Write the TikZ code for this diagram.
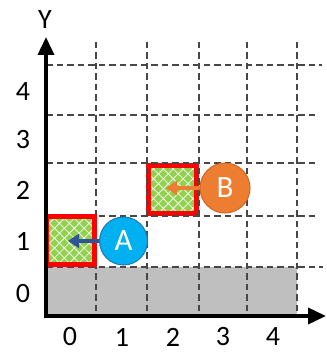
\documentclass[tikz,border=0pt]{standalone}
\usepackage{fontspec}
\setmainfont{Carlito}
\usetikzlibrary{arrows.meta,patterns.meta}
\definecolor{tilegreen}{HTML}{92D050}
\definecolor{floorgray}{HTML}{BFBFBF}
\definecolor{cyanA}{HTML}{00B0F0}
\definecolor{cyanAedge}{HTML}{1F78B4}
\definecolor{arrowA}{HTML}{2F5597}
\definecolor{orangeB}{HTML}{ED7D31}
\definecolor{orangeBedge}{HTML}{D0661F}
\begin{document}
\begin{tikzpicture}[x=1pt,y=-1pt,
  gridline/.style={draw=black!72, line width=1.1pt, dash pattern=on 6.5pt off 4pt},
  axisline/.style={line width=3.6pt, -{Triangle[width=16pt,length=18pt]}},
  lab/.style={font=\fontsize{28}{30}\selectfont, inner sep=0pt},
  tile/.style={minimum width=48pt, minimum height=48pt, inner sep=0pt, fill=tilegreen,
    postaction={pattern={Hatch[angle=45,distance=7pt,line width=0.8pt]}, pattern color=white!85!tilegreen},
    postaction={draw=red, line width=5.6pt}},
  ball/.style={circle, minimum size=48pt, inner sep=0pt, line width=1pt, text=white,
    font=\fontsize{31}{32}\selectfont},
  mover/.style={line width=3.4pt, -{Triangle[width=14pt,length=11pt]}}
]
\useasboundingbox (0,0) rectangle (326,352);
% floor
\fill[floorgray] (46,267) rectangle (297,316);
% tile B (under the grid)
\node[tile] (sqB) at (172.5,189.5) {};
% grid
\foreach \x in {96,147,199,247,297} \draw[gridline] (\x,42) -- (\x,316);
\draw[gridline] (46,65) -- (322,65);
\draw[gridline] (46,115) -- (316,115);
\draw[gridline] (46,163) -- (316,163);
\draw[gridline] (46,216) -- (316,216);
\draw[gridline] (46,267) -- (323,267);
% tile A (over the grid)
\node[tile] (sqA) at (70.5,240.5) {};
% axes
\coordinate (O) at (46,316);
\coordinate (xend) at (326,316);
\coordinate (yend) at (46,37);
\draw[axisline] ([xshift=-1.8pt]O) -- (xend);
\draw[axisline] (O) -- (yend);
\node[lab] (ylab) at (45,20) {Y};
% tick labels
\node[lab] (y0) at (23,294) {0};
\node[lab] (y1) at (23,241) {1};
\node[lab] (y2) at (23,190) {2};
\node[lab] (y3) at (23,140) {3};
\node[lab] (y4) at (23,92) {4};
\node[lab] (x0) at (70,337) {0};
\node[lab] (x1) at (122,337) {1};
\node[lab] (x2) at (173,337) {2};
\node[lab] (x3) at (223,337) {3};
\node[lab] (x4) at (273,337) {4};
% balls
\node[ball, fill=cyanA, draw=cyanAedge] (cA) at (123.5,241) {A};
\node[ball, fill=orangeB, draw=orangeBedge, minimum size=50pt] (cB) at (225,188) {B};
\coordinate (tA) at (68,241);
\coordinate (tB) at (166,188);
\draw[mover, arrowA] (cA.west) -- (tA);
\draw[mover, orangeB] (cB.west) -- (tB);
\end{tikzpicture}
\end{document}
